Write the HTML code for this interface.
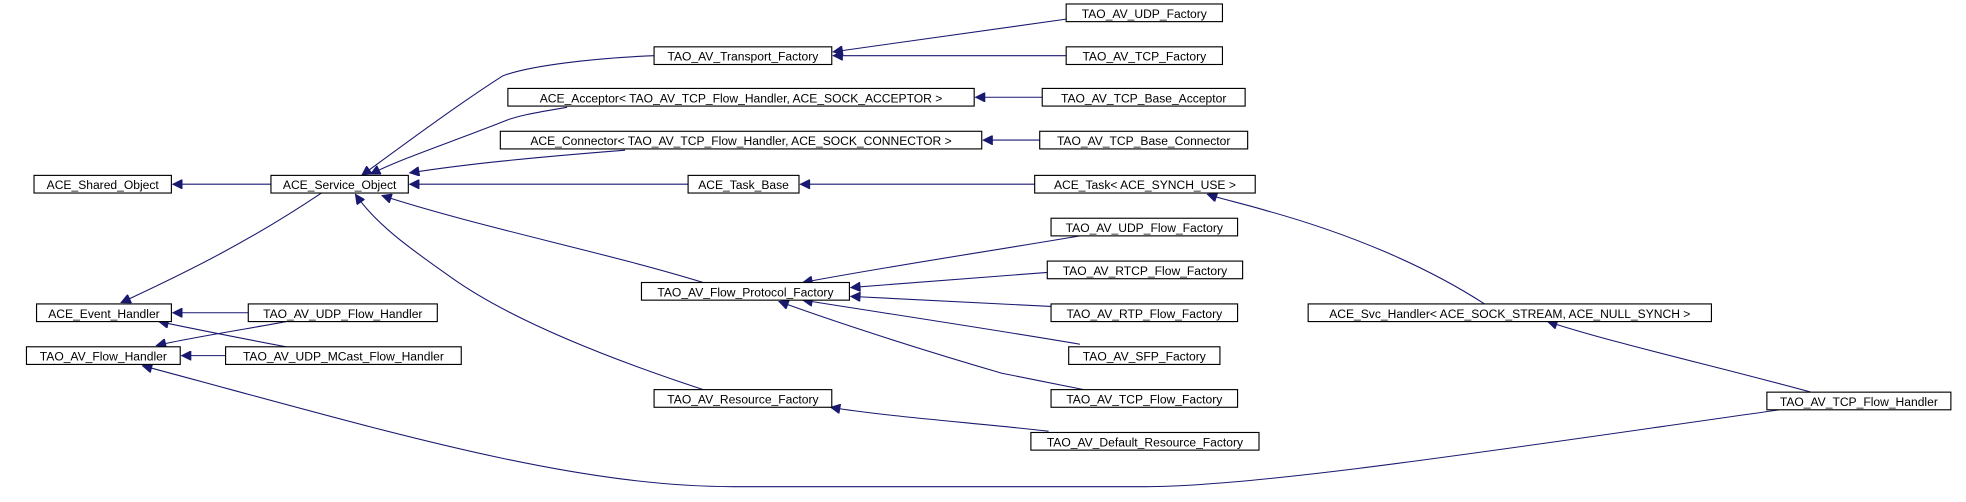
<!DOCTYPE html>
<html><head><meta charset="utf-8"><style>
html,body{margin:0;padding:0;background:#fff;}
svg{display:block;}
text{font-family:"Liberation Sans",Arial,sans-serif;font-size:9.6px;fill:#000;text-anchor:middle;}
rect{fill:#fff;stroke:#000;stroke-width:0.9;}
path{fill:none;stroke:#191970;stroke-width:0.85;}
</style></head><body>
<svg width="1966" height="502" viewBox="0 0 1560 398" xmlns="http://www.w3.org/2000/svg">
<defs>
<marker id="a" viewBox="0 0 10 10" refX="10" refY="5" markerWidth="10" markerHeight="7.5" markerUnits="userSpaceOnUse" orient="auto">
<path d="M0,0 L10,5 L0,10 z" style="fill:#191970;stroke:#191970;"/>
</marker>
</defs>
<g marker-end="url(#a)">
<path d="M215,146 L137,146"/>
<path d="M255,153 C200,190 150,215 96,240"/>
<path d="M519,44 C470,46 420,52 399,60 C360,85 320,115 287,139"/>
<path d="M450,85 C420,90 410,92 400,96 C360,112 320,125 294,138"/>
<path d="M496,119 C420,125 370,130 325,137"/>
<path d="M546,146 L325,146"/>
<path d="M558,224 C480,200 380,180 303,155"/>
<path d="M558,309 C470,280 400,250 358,220 C330,200 300,180 282,154"/>
<path d="M197,248 L137,248"/>
<path d="M227,255 C190,262 150,268 124,274"/>
<path d="M227,275 C190,268 150,260 126,255"/>
<path d="M179,282 L144,282"/>
<path d="M1412,325 C1200,355 1000,386 909,386 L582,386 C450,386 300,340 113,290"/>
<path d="M1437,311 C1360,290 1280,272 1228,255"/>
<path d="M1178,241 C1130,210 1070,185 1005,167 C985,161 970,158 958,154"/>
<path d="M821,146 L635,146"/>
<path d="M846,15 L661,41"/>
<path d="M846,44 L661,44"/>
<path d="M827,77 L774,77"/>
<path d="M825,111 L780,111"/>
<path d="M857,187 C780,200 700,212 637,224"/>
<path d="M831,216 L675,228"/>
<path d="M834,243 L675,235"/>
<path d="M857,273 C780,260 700,248 637,238"/>
<path d="M860,309 C840,305 815,300 795,296 C740,280 670,258 618,239"/>
<path d="M832,342 C780,336 700,330 659,323"/>
</g>
<g>
<rect x="846" y="3" width="124" height="14"/><text x="908" y="14">TAO_AV_UDP_Factory</text>
<rect x="519" y="37" width="141" height="14"/><text x="589.5" y="48">TAO_AV_Transport_Factory</text>
<rect x="846" y="37" width="124" height="14"/><text x="908" y="48">TAO_AV_TCP_Factory</text>
<rect x="403" y="70" width="370" height="14"/><text x="588" y="81">ACE_Acceptor&lt; TAO_AV_TCP_Flow_Handler, ACE_SOCK_ACCEPTOR &gt;</text>
<rect x="827" y="70" width="161" height="14"/><text x="907.5" y="81">TAO_AV_TCP_Base_Acceptor</text>
<rect x="397" y="104" width="382" height="14"/><text x="588" y="115">ACE_Connector&lt; TAO_AV_TCP_Flow_Handler, ACE_SOCK_CONNECTOR &gt;</text>
<rect x="825" y="104" width="165" height="14"/><text x="907.5" y="115">TAO_AV_TCP_Base_Connector</text>
<rect x="27" y="139" width="109" height="14"/><text x="81.5" y="150">ACE_Shared_Object</text>
<rect x="215" y="139" width="109" height="14"/><text x="269.5" y="150">ACE_Service_Object</text>
<rect x="546" y="139" width="88" height="14"/><text x="590" y="150">ACE_Task_Base</text>
<rect x="821" y="139" width="175" height="14"/><text x="908.5" y="150">ACE_Task&lt; ACE_SYNCH_USE &gt;</text>
<rect x="834" y="173" width="148" height="14"/><text x="908" y="184">TAO_AV_UDP_Flow_Factory</text>
<rect x="831" y="207" width="155" height="14"/><text x="908.5" y="218">TAO_AV_RTCP_Flow_Factory</text>
<rect x="509" y="224" width="165" height="14"/><text x="591.5" y="235">TAO_AV_Flow_Protocol_Factory</text>
<rect x="29" y="241" width="107" height="14"/><text x="82.5" y="252">ACE_Event_Handler</text>
<rect x="197" y="241" width="150" height="14"/><text x="272" y="252">TAO_AV_UDP_Flow_Handler</text>
<rect x="1038" y="241" width="320" height="14"/><text x="1198" y="252">ACE_Svc_Handler&lt; ACE_SOCK_STREAM, ACE_NULL_SYNCH &gt;</text>
<rect x="834" y="241" width="148" height="14"/><text x="908" y="252">TAO_AV_RTP_Flow_Factory</text>
<rect x="21" y="275" width="122" height="14"/><text x="82" y="286">TAO_AV_Flow_Handler</text>
<rect x="179" y="275" width="187" height="14"/><text x="272.5" y="286">TAO_AV_UDP_MCast_Flow_Handler</text>
<rect x="848" y="275" width="120" height="14"/><text x="908" y="286">TAO_AV_SFP_Factory</text>
<rect x="519" y="309" width="141" height="14"/><text x="589.5" y="320">TAO_AV_Resource_Factory</text>
<rect x="834" y="309" width="148" height="14"/><text x="908" y="320">TAO_AV_TCP_Flow_Factory</text>
<rect x="818" y="343" width="181" height="14"/><text x="908.5" y="354">TAO_AV_Default_Resource_Factory</text>
<rect x="1402" y="311" width="146" height="14"/><text x="1475" y="322">TAO_AV_TCP_Flow_Handler</text>
</g>
</svg>
</body></html>
